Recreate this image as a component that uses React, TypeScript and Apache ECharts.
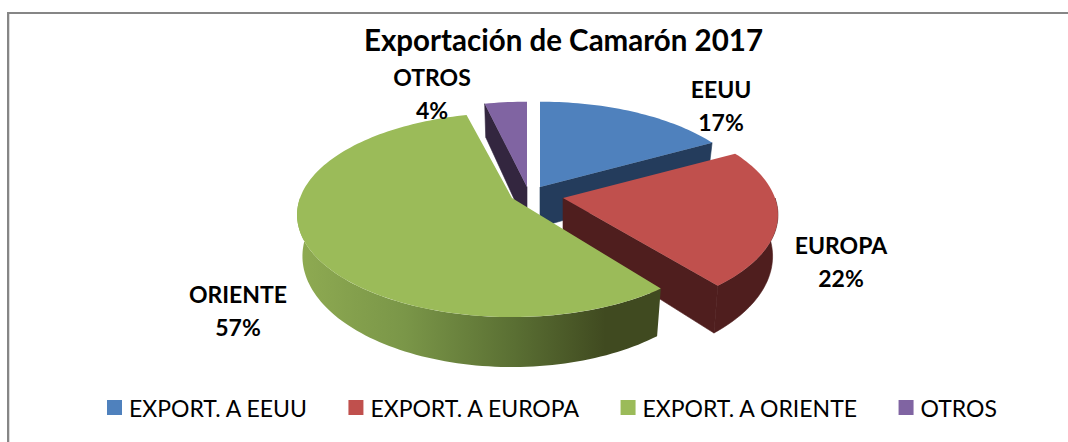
import React, { useEffect, useRef } from "react";
import * as echarts from "echarts";

const title = "Exportación de Camarón 2017";
const legendNames = ["EXPORT. A EEUU", "EXPORT. A EUROPA", "EXPORT. A ORIENTE", "OTROS"];
const shortNames = ["EEUU", "EUROPA", "ORIENTE", "OTROS"];
const values = [17, 22, 57, 4];
const colors = ["#4f81bd", "#c0504d", "#9bbb59", "#8064a2"];
const cutColors = ["#243c5c", "#4f1e1e", "#404a20", "#33263f"];
const drawOrder = [3, 0, 1, 2];

// layout of the projected pie
const centers = [[540, 187], [563, 198], [512, 198], [527, 187]];
const startNudge = [0, 0, 2, 1];
const labelPos = [[721, 105], [841, 261], [238, 310], [432, 93]];
const RX = 212, CY = 99.4, K = 0.165, DEPTH = 40, KD = 0.2, BOTTOM_SCALE = 0.975;
const FONT = "Lato, Carlito, sans-serif";

const total = values.reduce((a, b) => a + b, 0);
const rad = (d: number) => (d * Math.PI) / 180;
const topPt = (c: number[], t: number) => {
  const s = Math.sin(rad(t)), k = Math.cos(rad(t));
  const w = 1 + K * k;
  return [c[0] + (RX * s) / w, c[1] - (CY * k) / w];
};
const botPt = (c: number[], t: number) => {
  const p = topPt(c, t);
  const k = Math.cos(rad(t));
  return [c[0] + (p[0] - c[0]) * BOTTOM_SCALE, p[1] + DEPTH / (1 + KD * k)];
};
const arc = (a: number, b: number, fn: (t: number) => number[]) => {
  const n = Math.max(2, Math.ceil(Math.abs(b - a) / 1.5));
  const out: number[][] = [];
  for (let i = 0; i <= n; i++) out.push(fn(a + ((b - a) * i) / n));
  return out;
};

function sliceElements(i: number) {
  const start = (values.slice(0, i).reduce((a, b) => a + b, 0) / total) * 360 + startNudge[i];
  const end = (values.slice(0, i + 1).reduce((a, b) => a + b, 0) / total) * 360;
  const c = centers[i];
  const cBottom = [c[0], c[1] + DEPTH];
  const children: any[] = [];
  const poly = (points: number[][], fill: any, stroke = "none") => ({
    type: "polygon",
    shape: { points },
    style: { fill, stroke, lineWidth: stroke === "none" ? 0 : 0.6 },
    silent: true,
  });
  // radial cut faces turned towards the viewer
  if (Math.sin(rad(start)) < -1e-6) {
    children.push(poly([c, topPt(c, start), botPt(c, start), cBottom], cutColors[i], cutColors[i]));
  }
  if (Math.sin(rad(end)) > 1e-6) {
    children.push(poly([c, topPt(c, end), botPt(c, end), cBottom], cutColors[i], cutColors[i]));
  }
  // outer wall
  const a = Math.max(start, 90), b = Math.min(end, 270);
  if (b > a) {
    const outer = [...arc(a, b, (t) => topPt(c, t)), ...arc(b, a, (t) => botPt(c, t))];
    const fill =
      i === 2
        ? new echarts.graphic.LinearGradient(
            296, 0, 660, 0,
            [
              { offset: 0, color: "#8fab52" },
              { offset: 0.3, color: "#7a9648" },
              { offset: 0.6, color: "#5a6f33" },
              { offset: 0.85, color: "#404a20" },
              { offset: 1, color: "#404a20" },
            ],
            true
          )
        : cutColors[i];
    children.push(poly(outer, fill, i === 2 ? "none" : cutColors[i]));
  }
  // top face
  children.push(poly([c, ...arc(start, end, (t) => topPt(c, t))], colors[i]));
  return children;
}

const labelElement = (i: number) => ({
  type: "text",
  z2: 100,
  silent: true,
  style: {
    text: `${shortNames[i]}\n${Math.round((values[i] / total) * 100)}%`,
    x: labelPos[i][0],
    y: labelPos[i][1],
    align: "center",
    verticalAlign: "middle",
    lineHeight: 33,
    font: `bold 23px ${FONT}`,
    fill: "#000000",
  },
});

export default function App() {
  const ref = useRef<HTMLDivElement>(null);
  useEffect(() => {
    const chart = echarts.init(ref.current!, undefined, { renderer: "svg" });
    chart.setOption({
      animation: false,
      backgroundColor: "#ffffff",
      title: {
        text: title,
        left: 558.5,
        top: 19,
        textAlign: "center",
        textStyle: { fontFamily: FONT, fontWeight: "bold", fontSize: 29.5, color: "#000000" },
      },
      legend: {
        left: 107,
        top: 396,
        padding: 0,
        itemWidth: 15,
        itemHeight: 15,
        itemGap: 40,
        icon: "rect",
        data: legendNames,
        selectedMode: false,
        textStyle: { fontFamily: FONT, fontSize: 23, color: "#000000", padding: [0, 0, 0, 2] },
      },
      graphic: [
        { type: "line", shape: { x1: 9.5, y1: 14, x2: 9.5, y2: 442 }, style: { stroke: "#dcdcdc", lineWidth: 1 } },
        { type: "line", shape: { x1: 7, y1: 13, x2: 1068, y2: 13 }, style: { stroke: "#868686", lineWidth: 2 } },
        { type: "line", shape: { x1: 8, y1: 13, x2: 8, y2: 442 }, style: { stroke: "#868686", lineWidth: 2 } },
      ],
      series: drawOrder.map((i) => ({
        type: "custom",
        name: legendNames[i],
        coordinateSystem: "none",
        itemStyle: { color: colors[i] },
        data: [values[i]],
        z: 2,
        renderItem: () => ({
          type: "group",
          children: [...sliceElements(i), labelElement(i)],
        }),
      })),
    });
    return () => chart.dispose();
  }, []);
  return (
    <div
      ref={ref}
      style={{ position: "absolute", left: 0, top: 0, width: 1068, height: 442 }}
    />
  );
}
